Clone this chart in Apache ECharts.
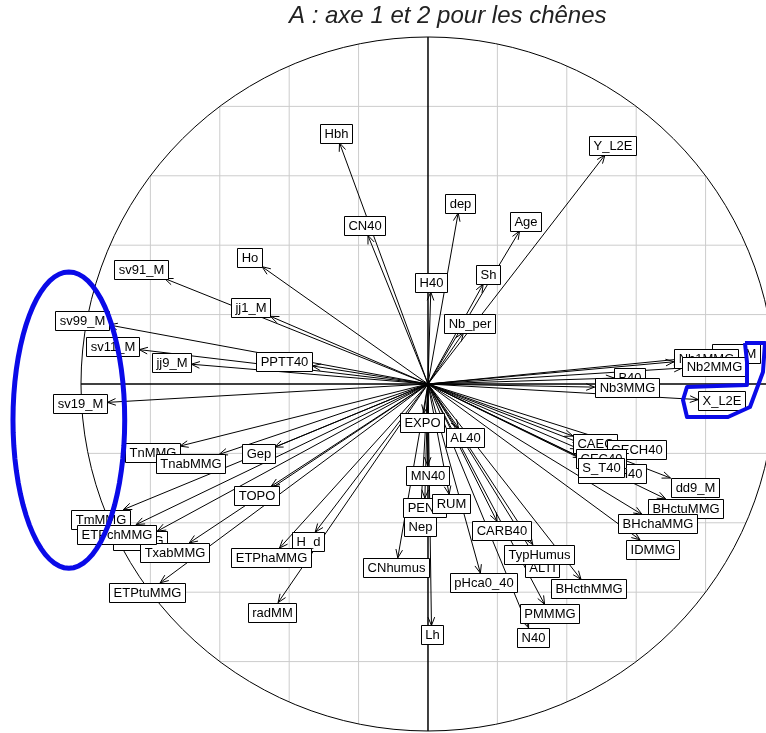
<!DOCTYPE html>
<html>
<head>
<meta charset="utf-8">
<script src="https://cdn.jsdelivr.net/npm/echarts@6/dist/echarts.min.js"></script>
<style>
html, body { margin: 0; padding: 0; background: #fff; }
#main { width: 766px; height: 733px; }
</style>
</head>
<body>
<div id="main"></div>
<script>
// variables, in drawing order (later labels sit on top)
var varNames = ['Hbh', 'CN40', 'Ho', 'sv91_M', 'jj1_M', 'sv99_M', 'sv11_M', 'jj9_M', 'PPTT40', 'sv19_M',
  'H40', 'dep', 'Age', 'Sh', 'Y_L2E', 'Nb_per', 'dd1_M', 'Nb1MMG', 'Nb2MMG', 'B40', 'Nb3MMG', 'X_L2E',
  'CAEC', 'CECH40', 'MGEcH40', 'CEC40', 'S_T40', 'dd9_M', 'BHctuMMG', 'BHchaMMG', 'IDMMG', 'BHcthMMG',
  'PMMMG', 'N40', 'ALTI', 'TypHumus', 'CARB40', 'pHca0_40', 'AL40', 'EXPO', 'MN40', 'PENT', 'RUM', 'Nep',
  'CNhumus', 'Lh', 'TnMMG', 'TnabMMG', 'Gep', 'TOPO', 'TmMMG', 'TxMMG', 'TxabMMG', 'ETPchMMG', 'H_d',
  'ETPhaMMG', 'ETPtuMMG', 'radMM'];

// correlations with axis 1
var axis1 = [-0.255, -0.173, -0.478, -0.759, -0.454, -0.919, -0.832, -0.682, -0.333, -0.924,
  0.008, 0.087, 0.264, 0.159, 0.510, 0.102, 0.819, 0.709, 0.733, 0.537, 0.480, 0.779,
  0.418, 0.516, 0.474, 0.435, 0.443, 0.699, 0.685, 0.617, 0.611, 0.441,
  0.336, 0.290, 0.311, 0.302, 0.199, 0.151, 0.088, -0.012, -0.001, -0.009, 0.061, -0.022,
  -0.087, 0.010, -0.715, -0.602, -0.442, -0.452, -0.878, -0.780, -0.688, -0.841, -0.325,
  -0.428, -0.772, -0.432];

// correlations with axis 2
var axis2 = [0.695, 0.428, 0.338, 0.304, 0.195, 0.170, 0.099, 0.057, 0.052, -0.053,
  0.265, 0.493, 0.441, 0.288, 0.660, 0.148, 0.081, 0.064, 0.046, 0.017, -0.009, -0.045,
  -0.150, -0.163, -0.232, -0.187, -0.213, -0.271, -0.331, -0.376, -0.449, -0.563,
  -0.635, -0.703, -0.501, -0.463, -0.396, -0.545, -0.127, -0.084, -0.235, -0.329, -0.318, -0.383,
  -0.501, -0.696, -0.179, -0.203, -0.182, -0.295, -0.362, -0.424, -0.458, -0.405, -0.427,
  -0.473, -0.573, -0.630];

var gridTicks = [-0.8, -0.6, -0.4, -0.2, 0.2, 0.4, 0.6, 0.8];

// blue hand-drawn marks (data units)
var ellipseCenter = [-1.035, -0.104];
var ellipseRadii = [0.161, 0.427];
var outlineMark = [[0.9135, 0.1182], [0.9712, 0.1182], [0.9654, 0.0346], [0.9280, -0.0663],
  [0.8646, -0.0951], [0.7464, -0.0951], [0.7349, -0.0461], [0.7464, -0.0086],
  [0.9193, -0.0029], [0.9193, 0.0634], [0.9135, 0.1182]];

var chart = echarts.init(document.getElementById('main'));

var labelFont = '13px "Liberation Sans", Arial, sans-serif';
var ctx = document.createElement('canvas').getContext('2d');
ctx.font = labelFont;

function renderFrame(params, api) {
  var o = api.coord([0, 0]);
  var r = api.size([1, 1])[0];
  var kids = [];
  gridTicks.forEach(function (v) {
    var h = Math.sqrt(1 - v * v);
    var a = api.coord([v, -h]), b = api.coord([v, h]);
    kids.push({ type: 'line', shape: { x1: a[0], y1: a[1], x2: b[0], y2: b[1] },
      style: { stroke: '#cccccc', lineWidth: 1 } });
    a = api.coord([-h, v]); b = api.coord([h, v]);
    kids.push({ type: 'line', shape: { x1: a[0], y1: a[1], x2: b[0], y2: b[1] },
      style: { stroke: '#cccccc', lineWidth: 1 } });
  });
  kids.push({ type: 'circle', shape: { cx: o[0], cy: o[1], r: r },
    style: { fill: null, stroke: '#000', lineWidth: 1 } });
  var l = api.coord([-1, 0]), rr = api.coord([1, 0]), t = api.coord([0, 1]), b2 = api.coord([0, -1]);
  kids.push({ type: 'line', shape: { x1: l[0], y1: l[1], x2: rr[0], y2: rr[1] },
    style: { stroke: '#000', lineWidth: 1.5 } });
  kids.push({ type: 'line', shape: { x1: t[0], y1: t[1], x2: b2[0], y2: b2[1] },
    style: { stroke: '#000', lineWidth: 1.5 } });
  return { type: 'group', children: kids };
}

function renderArrow(params, api) {
  var o = api.coord([0, 0]);
  var p = api.coord([api.value(0), api.value(1)]);
  var ang = Math.atan2(p[1] - o[1], p[0] - o[0]);
  var hl = 9, ha = 0.38;
  var h1 = [p[0] - hl * Math.cos(ang - ha), p[1] - hl * Math.sin(ang - ha)];
  var h2 = [p[0] - hl * Math.cos(ang + ha), p[1] - hl * Math.sin(ang + ha)];
  return { type: 'group', children: [
    { type: 'line', shape: { x1: o[0], y1: o[1], x2: p[0], y2: p[1] }, style: { stroke: '#000', lineWidth: 1 } },
    { type: 'polyline', shape: { points: [h1, p, h2] }, style: { stroke: '#000', fill: null, lineWidth: 1 } }
  ] };
}

function renderLabel(params, api) {
  var o = api.coord([0, 0]);
  var p = api.coord([api.value(0), api.value(1)]);
  var name = varNames[params.dataIndex];
  var w = Math.round(ctx.measureText(name).width) + 8, h = 19;
  var dx = p[0] - o[0], dy = p[1] - o[1];
  var len = Math.sqrt(dx * dx + dy * dy) || 1;
  var ux = dx / len, uy = dy / len;
  var t = Math.min(Math.abs(ux) > 1e-6 ? w / 2 / Math.abs(ux) : 1e9,
                   Math.abs(uy) > 1e-6 ? h / 2 / Math.abs(uy) : 1e9);
  var x0 = Math.round(p[0] + t * ux - w / 2) + 0.5;
  var y0 = Math.round(p[1] + t * uy - h / 2) + 0.5;
  return { type: 'group', children: [
    { type: 'rect', shape: { x: x0, y: y0, width: w, height: h }, style: { fill: '#fff', stroke: '#000', lineWidth: 1 } },
    { type: 'text', style: { x: x0 + w / 2, y: y0 + h / 2 + 0.5, text: name, font: labelFont,
      fill: '#000', align: 'center', verticalAlign: 'middle' } }
  ] };
}

function renderMarks(params, api) {
  var pts = [];
  for (var i = 0; i < 72; i++) {
    var a = i / 72 * Math.PI * 2;
    pts.push(api.coord([ellipseCenter[0] + ellipseRadii[0] * Math.cos(a),
                        ellipseCenter[1] + ellipseRadii[1] * Math.sin(a)]));
  }
  var box = outlineMark.map(function (q) { return api.coord(q); });
  return { type: 'group', children: [
    { type: 'polygon', shape: { points: pts }, style: { fill: null, stroke: '#0a0ae8', lineWidth: 5 } },
    { type: 'polyline', shape: { points: box }, style: { fill: null, stroke: '#0a0ae8', lineWidth: 4, lineJoin: 'round' } }
  ] };
}

var points = axis1.map(function (x, i) { return [x, axis2[i]]; });

chart.setOption({
  animation: false,
  graphic: [{
    type: 'text', left: 289, top: 4,
    style: { text: 'A : axe 1 et 2 pour les chênes', font: 'italic 24px "Liberation Sans", Arial, sans-serif', fill: '#222' }
  }],
  grid: { left: 0, right: 0, top: 0, bottom: 0 },
  xAxis: { type: 'value', min: -1.2334, max: 0.9741, show: false },
  yAxis: { type: 'value', min: -1.0058, max: 1.1066, show: false },
  series: [
    { type: 'custom', renderItem: renderFrame, data: [[0, 0]], z: 1, silent: true },
    { type: 'custom', renderItem: renderArrow, data: points, z: 2, silent: true },
    { type: 'custom', renderItem: renderLabel, data: points, z: 3, silent: true },
    { type: 'custom', renderItem: renderMarks, data: [[0, 0]], z: 4, silent: true }
  ]
});
</script>
</body>
</html>
